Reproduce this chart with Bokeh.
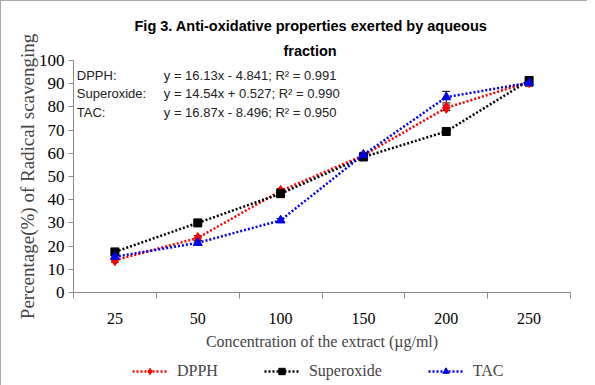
from bokeh.plotting import figure
from bokeh.layouts import column
from bokeh.models import (Range1d, FixedTicker, Label, Legend, LegendItem, Whisker,
                          ColumnDataSource, Title)
from bokeh.embed import file_html
from bokeh.resources import INLINE

categories = ["25", "50", "100", "150", "200", "250"]
dpph = [13.9, 23.5, 43.8, 59.1, 79.6, 90.7]
superoxide = [17.5, 30.0, 42.6, 58.4, 69.4, 91.4]
tac = [15.4, 21.4, 31.1, 59.4, 84.2, 90.4]
dpph_err = [0.8, 1.0, 1.0, 1.0, 1.2, 1.0]
superoxide_err = [0.8, 0.8, 0.8, 0.8, 1.0, 1.5]
tac_err = [0.8, 0.8, 0.8, 1.0, 2.5, 1.5]
y_ticks = list(range(0, 101, 10))
series_names = ["DPPH", "Superoxide", "TAC"]
equations = ["y = 16.13x - 4.841; R² = 0.991",
             "y = 14.54x + 0.527; R² = 0.990",
             "y = 16.87x - 8.496; R² = 0.950"]
title_lines = ["Fig 3. Anti-oxidative properties exerted by aqueous", "fraction"]

SERIF = "Liberation Serif"
SANS = "Liberation Sans"
AXIS_COLOR = "#8a8a8a"
BORDER = "1px solid #a8a8a8"

xs = [i + 0.5 for i in range(len(categories))]

p = figure(width=587, height=360, output_backend="svg", toolbar_location=None,
           title=None,
           x_range=Range1d(0, len(categories)), y_range=Range1d(0, 100),
           min_border_left=72, min_border_right=18, min_border_top=59,
           min_border_bottom=69)
p.outline_line_color = None
p.xgrid.grid_line_color = None
p.ygrid.grid_line_color = None
p.background_fill_color = "white"
p.border_fill_color = "white"
p.styles = {"border-top": BORDER, "border-left": BORDER}

# x axis
p.xaxis.ticker = FixedTicker(ticks=xs, minor_ticks=list(range(len(categories) + 1)))
p.xaxis.major_label_overrides = {x: c for x, c in zip(xs, categories)}
p.xaxis.major_tick_line_color = None
p.xaxis.major_tick_out = 0
p.xaxis.major_tick_in = 0
p.xaxis.minor_tick_line_color = AXIS_COLOR
p.xaxis.minor_tick_out = 6
p.xaxis.minor_tick_in = 0
p.xaxis.axis_line_color = AXIS_COLOR
p.xaxis.major_label_standoff = 14
p.xaxis.major_label_text_font = SERIF
p.xaxis.major_label_text_font_size = "16px"
p.xaxis.major_label_text_color = "black"
p.xaxis.axis_label = "Concentration of the extract (µg/ml)"
p.xaxis.axis_label_text_font = SERIF
p.xaxis.axis_label_text_font_size = "16px"
p.xaxis.axis_label_text_font_style = "normal"
p.xaxis.axis_label_standoff = 6

# y axis
p.yaxis.ticker = FixedTicker(ticks=y_ticks)
p.yaxis.minor_tick_line_color = None
p.yaxis.major_tick_line_color = AXIS_COLOR
p.yaxis.major_tick_out = 5
p.yaxis.major_tick_in = 0
p.yaxis.axis_line_color = AXIS_COLOR
p.yaxis.major_label_standoff = 4
p.yaxis.major_label_text_font = SERIF
p.yaxis.major_label_text_font_size = "17px"
p.yaxis.major_label_text_color = "black"
p.yaxis.axis_label = "Percentage(%) of Radical scavenging"
p.yaxis.axis_label_text_font = SERIF
p.yaxis.axis_label_text_font_size = "19px"
p.yaxis.axis_label_text_font_style = "normal"
p.yaxis.axis_label_standoff = -2

colors = ["#ff0000", "#000000", "#0000ee"]
markers = ["diamond", "square", "triangle"]
sizes = [11, 8, 9]
data = [dpph, superoxide, tac]
errs = [dpph_err, superoxide_err, tac_err]

# legend strip below the chart (its ranges keep the data points out of view)
lg = figure(width=587, height=25, output_backend="svg", toolbar_location=None,
            title=None, x_axis_location=None, y_axis_location=None,
            x_range=Range1d(-20, -10), y_range=Range1d(-20, -10),
            min_border=0, min_border_left=0, min_border_right=0,
            min_border_top=0, min_border_bottom=0)
lg.outline_line_color = None
lg.xgrid.grid_line_color = None
lg.ygrid.grid_line_color = None
lg.border_fill_color = "white"
lg.styles = {"border-left": BORDER}

items = []
for name, ys, err, c, m, s in zip(series_names, data, errs, colors, markers, sizes):
    src = ColumnDataSource(dict(x=xs, y=ys,
                                lo=[v - e for v, e in zip(ys, err)],
                                hi=[v + e for v, e in zip(ys, err)]))
    w = Whisker(source=src, base="x", lower="lo", upper="hi",
                line_color="black", line_width=1)
    w.upper_head.size = 8
    w.lower_head.size = 8
    w.upper_head.line_color = "black"
    w.lower_head.line_color = "black"
    p.add_layout(w)
    p.line("x", "y", source=src, line_color=c, line_width=2.5, line_dash="2 2")
    p.scatter("x", "y", source=src, marker=m, size=s, fill_color=c, line_color=c)
    ln2 = lg.line("x", "y", source=src, line_color=c, line_width=2.5, line_dash="2 2")
    sc2 = lg.scatter("x", "y", source=src, marker=m, size=s, fill_color=c, line_color=c)
    items.append(LegendItem(label=name, renderers=[ln2, sc2]))

legend = Legend(items=items, orientation="horizontal", location=(59, 5),
                label_text_font=SERIF, label_text_font_size="16px",
                glyph_width=35, glyph_height=16, label_standoff=10, spacing=46,
                border_line_color=None, background_fill_alpha=0, padding=2, margin=0)
lg.add_layout(legend)

# two-line title: added from the frame outward
for t, so, off in zip(reversed(title_lines), [4, 10], [210, 61]):
    p.add_layout(Title(text=t, align="left", offset=off, standoff=so,
                       text_font=SANS, text_font_size="14.5px", text_font_style="bold",
                       text_color="black"), "above")

# regression equations
eq_y = [93.5, 85.7, 77.5]
for nm, eq, ey in zip(series_names, equations, eq_y):
    p.add_layout(Label(x=0.04, y=ey, text=nm + ":", text_baseline="middle",
                       text_font=SANS, text_font_size="13px", text_color="#222222"))
    p.add_layout(Label(x=1.09, y=ey, text=eq, text_baseline="middle",
                       text_font=SANS, text_font_size="13px", text_color="#222222"))

layout = column(p, lg, spacing=0)
open("out.html", "w").write(file_html(layout, INLINE))
